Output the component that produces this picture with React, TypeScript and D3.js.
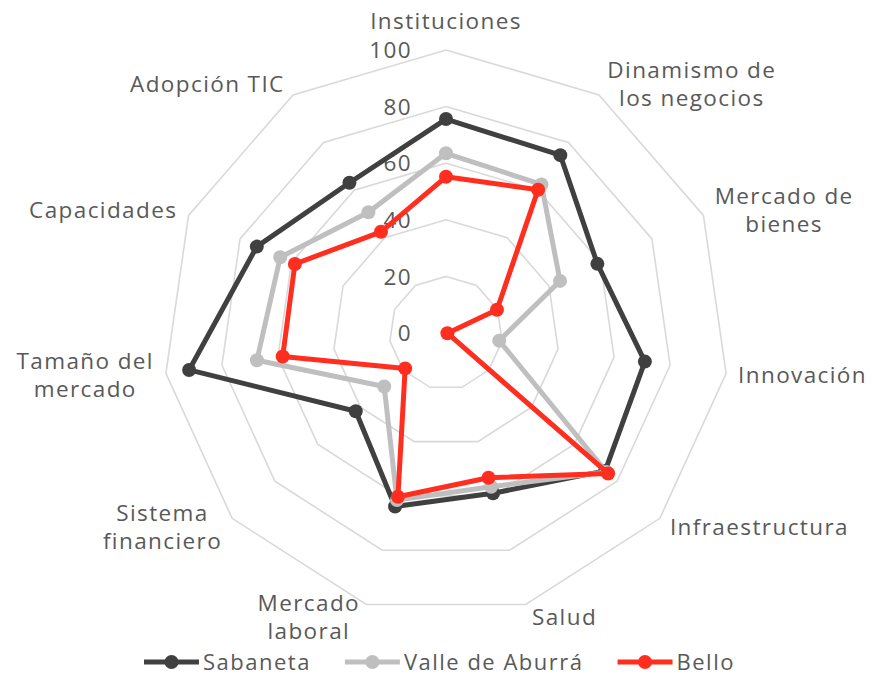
import React, { useRef, useEffect } from 'react';
import * as d3 from 'd3';

// axis names, split into the lines they are drawn on
const categories: string[][] = [
  ['Instituciones'],
  ['Dinamismo de', 'los negocios'],
  ['Mercado de', 'bienes'],
  ['Innovación'],
  ['Infraestructura'],
  ['Salud'],
  ['Mercado', 'laboral'],
  ['Sistema', 'financiero'],
  ['Tamaño del', 'mercado'],
  ['Capacidades'],
  ['Adopción TIC'],
];

const sabaneta = [75.6, 74.7, 58.8, 71, 74.4, 59, 63.9, 42.2, 91.7, 73.5, 63.1];
const valle = [63.5, 62.4, 44.3, 19, 75, 56.6, 61.5, 28.9, 67.5, 64.4, 50.7];
const bello = [55.2, 60.2, 19.8, 0.5, 75.8, 53.3, 60.3, 19.1, 58.3, 58.7, 42.5];

const ticks = [0, 20, 40, 60, 80, 100];

const seriesNames = ['Sabaneta', 'Valle de Aburrá', 'Bello'];
const seriesColors = ['#404040', '#BFBFBF', '#FF2E1F'];

const App = () => {
  const ref = useRef<SVGSVGElement>(null);

  useEffect(() => {
    const svg = d3.select(ref.current);
    svg.selectAll('*').remove();

    const cx = 446, cy = 333, R = 283;
    const n = categories.length;
    const font = "'Open Sans', sans-serif";
    const textColor = '#595959';

    const r = d3.scaleLinear().domain([0, 100]).range([0, R]);
    const angle = (i: number) => (i * 2 * Math.PI) / n;

    const g = svg.append('g').attr('transform', `translate(${cx},${cy})`);

    // grid rings
    const ring = d3.lineRadial<number>()
      .angle((_, i) => angle(i))
      .radius(d => r(d))
      .curve(d3.curveLinearClosed);

    ticks.filter(t => t > 0).forEach(t => {
      g.append('path')
        .attr('d', ring(categories.map(() => t)))
        .attr('fill', 'none')
        .attr('stroke', '#D9D9D9')
        .attr('stroke-width', 1.6);
    });

    // tick labels
    g.selectAll('.tick')
      .data(ticks)
      .enter().append('text')
      .attr('x', -34)
      .attr('y', d => -r(d))
      .attr('dy', '0.36em')
      .attr('text-anchor', 'end')
      .attr('font-family', font)
      .attr('font-size', 22.5)
      .attr('letter-spacing', 1.4)
      .attr('fill', textColor)
      .text(d => d);

    // series
    const data = [sabaneta, valle, bello];
    data.forEach((values, s) => {
      const line = d3.lineRadial<number>()
        .angle((_, i) => angle(i))
        .radius(d => r(d))
        .curve(d3.curveLinearClosed);
      g.append('path')
        .attr('d', line(values))
        .attr('fill', 'none')
        .attr('stroke', seriesColors[s])
        .attr('stroke-width', 5)
        .attr('stroke-linejoin', 'round');
      g.selectAll(`.pt${s}`)
        .data(values)
        .enter().append('circle')
        .attr('cx', (d, i) => r(d) * Math.sin(angle(i)))
        .attr('cy', (d, i) => -r(d) * Math.cos(angle(i)))
        .attr('r', 7)
        .attr('fill', seriesColors[s]);
    });

    // axis labels
    const lineH = 28;
    categories.forEach((lines, i) => {
      const a = angle(i);
      const vx = R * Math.sin(a);
      const vy = -R * Math.cos(a);
      const t = g.append('text')
        .attr('text-anchor', 'middle')
        .attr('font-family', font)
        .attr('font-size', 22.5)
        .attr('letter-spacing', 1.4)
        .attr('fill', textColor);
      lines.forEach((l, k) => {
        t.append('tspan').attr('x', 0).attr('dy', k === 0 ? 0 : lineH).text(l);
      });
      const w = (t.node() as SVGTextElement).getBBox().width;
      let x: number, yc: number;
      if (i === 0) {
        x = 0;
        yc = vy - 29;
      } else {
        const off = 4 + 8 * Math.abs(Math.sin(a));
        x = Math.sin(a) > 0 ? vx + off + w / 2 : vx - off - w / 2;
        yc = vy - 13 * Math.cos(a);
      }
      const y0 = yc - ((lines.length - 1) * lineH) / 2 + 8;
      t.attr('transform', `translate(${x},${y0})`);
    });

    // legend
    const legend = svg.append('g').attr('transform', 'translate(144,662)');
    let lx = 0;
    seriesNames.forEach((name, s) => {
      const item = legend.append('g').attr('transform', `translate(${lx},0)`);
      item.append('line')
        .attr('x1', 0).attr('x2', 55)
        .attr('stroke', seriesColors[s])
        .attr('stroke-width', 5);
      item.append('circle')
        .attr('cx', 27.5)
        .attr('r', 7)
        .attr('fill', seriesColors[s]);
      const txt = item.append('text')
        .attr('x', 59)
        .attr('dy', '0.36em')
        .attr('font-family', font)
        .attr('font-size', 22)
        .attr('letter-spacing', 1.5)
        .attr('fill', textColor)
        .text(name);
      const w = (txt.node() as SVGTextElement).getComputedTextLength();
      lx += 59 + w + 34;
    });
  }, []);

  return (
    <>
      <style>{`
body { margin: 0; }
.radar-chart { display: block; background: #fff; }
`}</style>
      <svg ref={ref} className="radar-chart" width={873} height={677} />
    </>
  );
};

export default App;
